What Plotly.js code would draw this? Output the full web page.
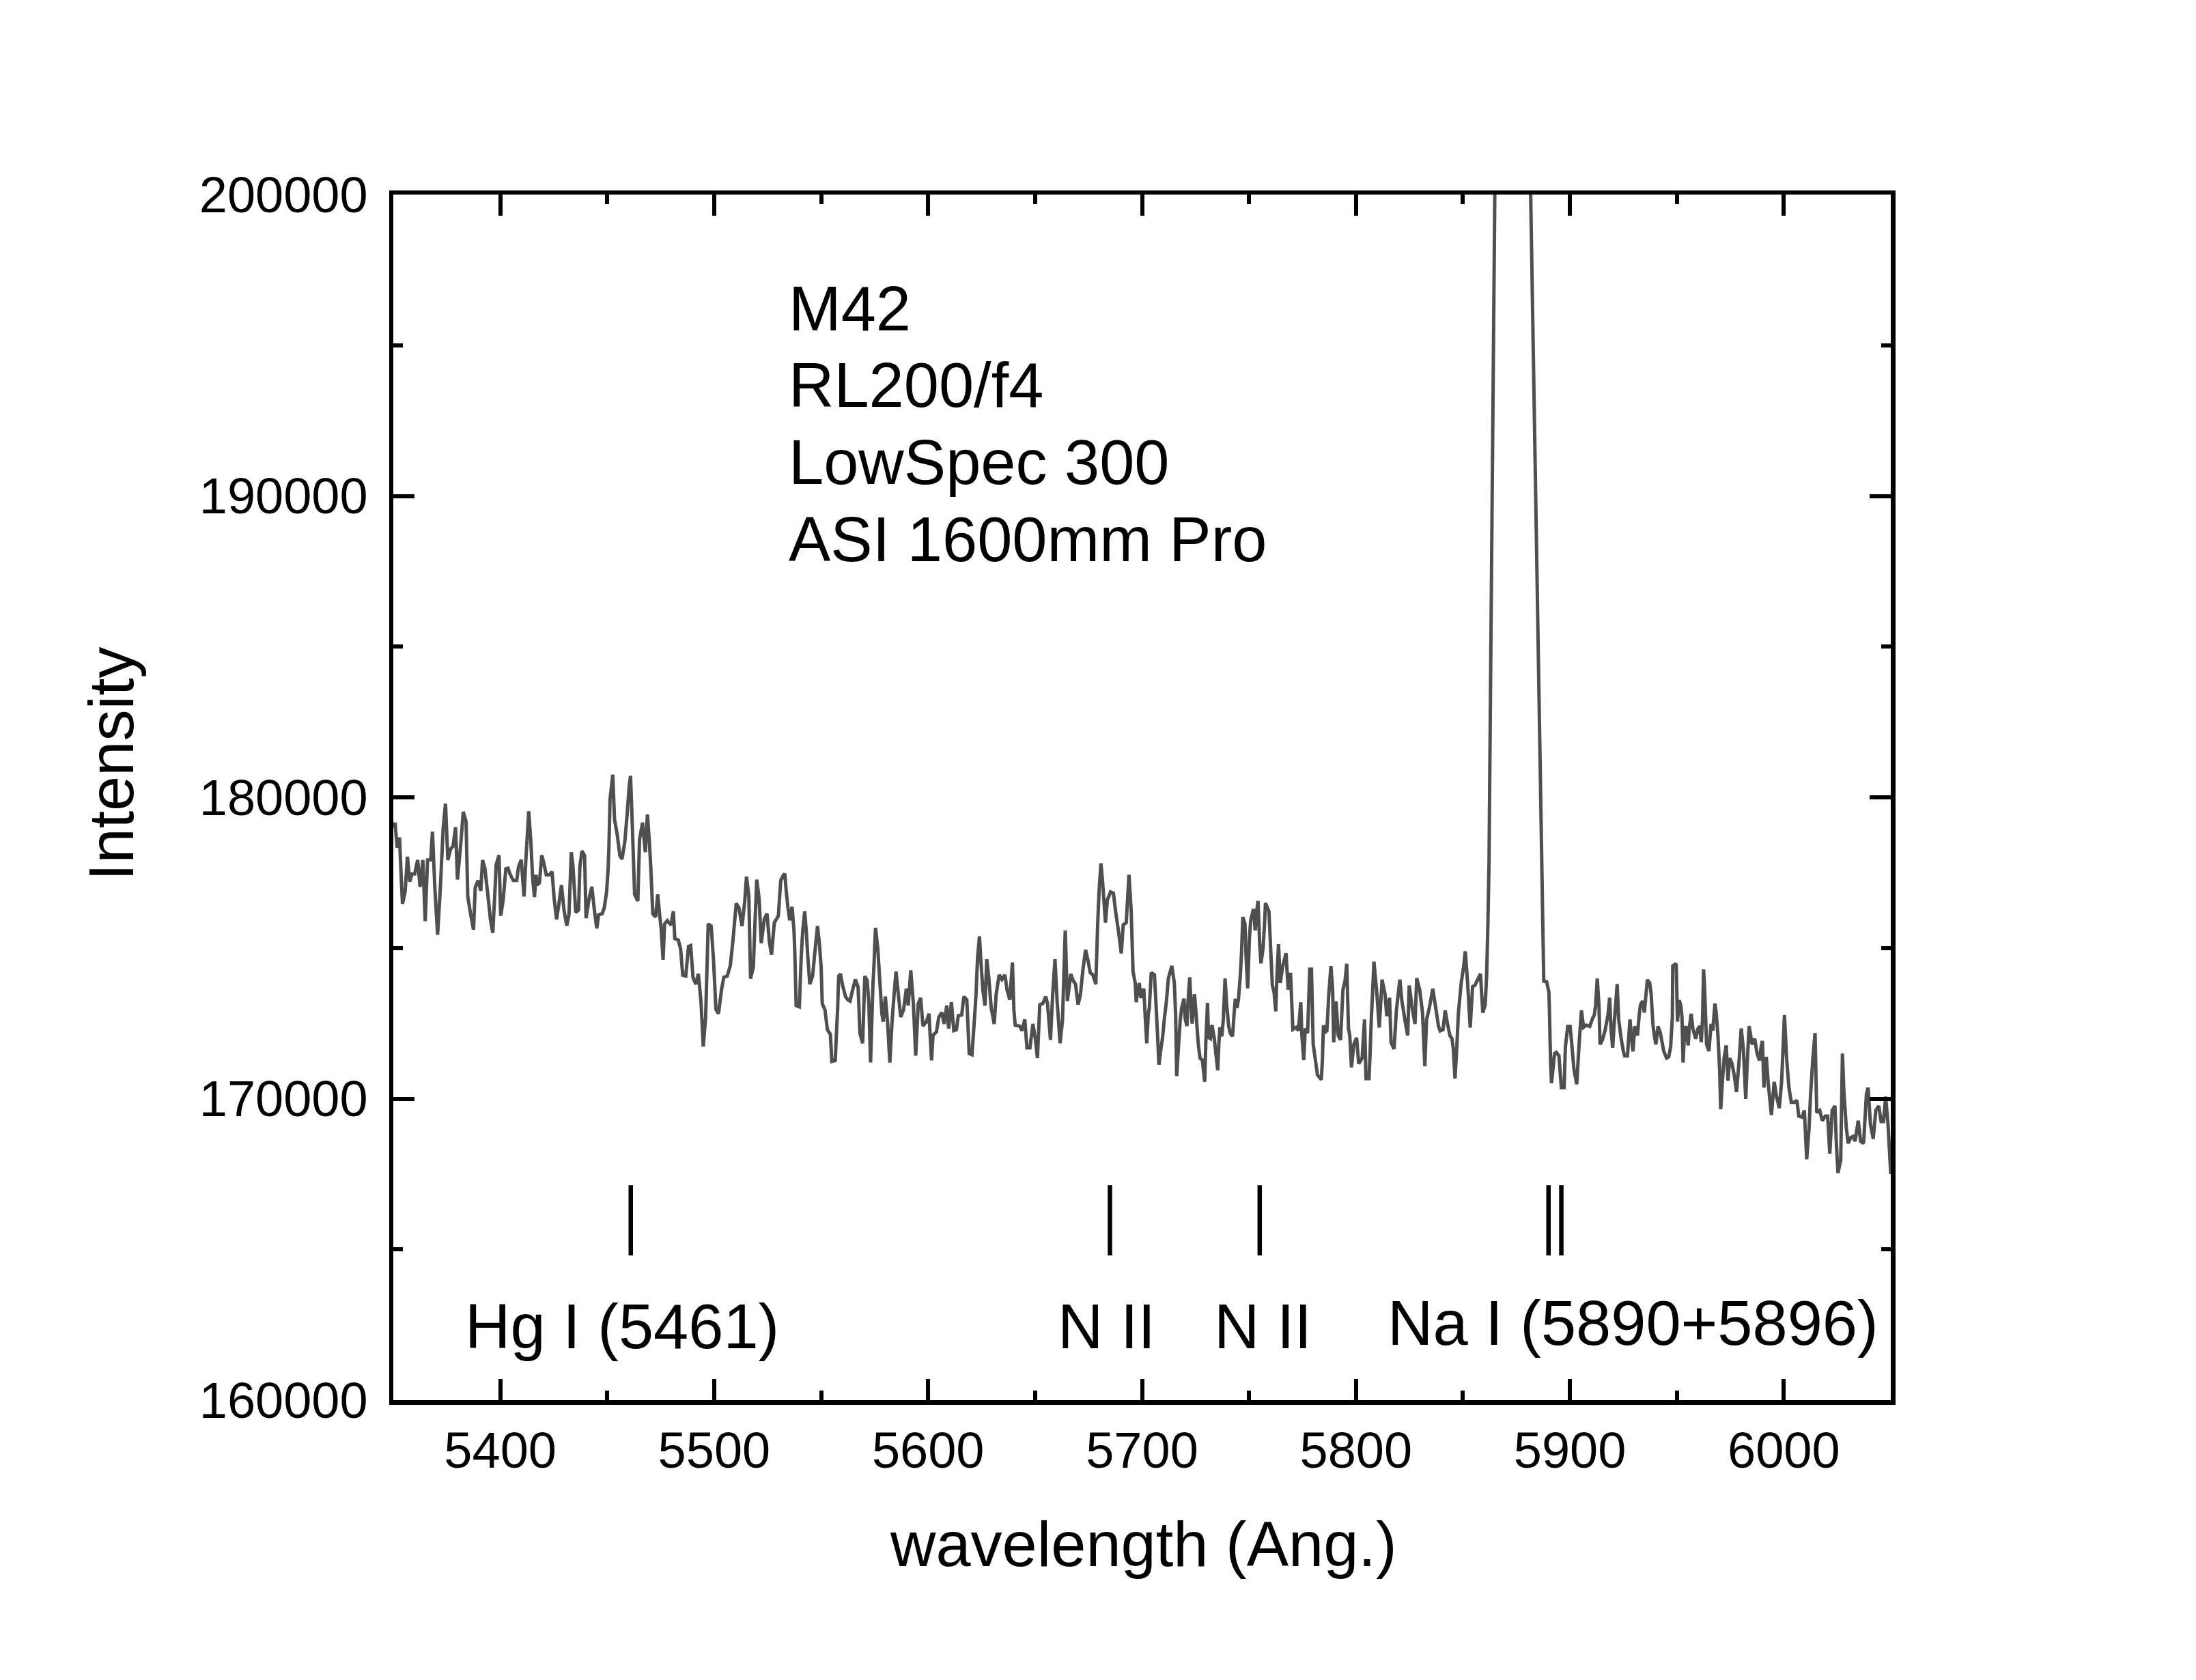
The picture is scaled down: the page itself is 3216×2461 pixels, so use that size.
<!DOCTYPE html>
<html>
<head>
<meta charset="utf-8">
<script src="https://cdn.plot.ly/plotly-3.0.1.min.js"></script>
<style>html,body{margin:0;padding:0;background:#fff;}</style>
</head>
<body>
<div id="chart"></div>
<script>
// ---- data ----
const wavelength = [
5350.2,5350.8,5351.8,5352.9,5353.9,5354.3,5355.5,5356.6,5357.7,5358.7,5360.0,5361.4,5362.5,5363.8,5364.9,5366.0,5367.5,5368.3,5369.4,5370.7,
5372.0,5373.3,5374.4,5375.5,5376.8,5377.9,5379.1,5380.0,5381.6,5382.7,5384.0,5384.8,5386.2,5387.5,5388.3,5389.6,5390.9,5391.7,5392.8,5394.4,
5395.4,5396.5,5397.6,5398.1,5399.4,5400.2,5401.3,5402.6,5403.6,5404.5,5406.1,5407.7,5408.5,5409.8,5411.1,5411.9,5413.3,5414.3,5415.1,5416.0,
5416.7,5417.2,5418.3,5419.4,5420.4,5421.5,5423.1,5424.2,5425.2,5426.3,5427.3,5428.6,5429.8,5431.1,5432.1,5433.2,5434.0,5435.3,5436.6,5437.2,
5438.2,5439.4,5440.1,5441.5,5442.8,5444.0,5445.1,5446.0,5447.6,5448.6,5449.7,5450.4,5450.8,5451.3,5452.6,5453.4,5454.7,5455.9,5456.9,5458.2,
5459.3,5460.3,5460.9,5461.7,5462.8,5464.3,5465.1,5466.5,5467.8,5468.8,5469.7,5470.4,5471.3,5472.6,5473.6,5474.5,5475.2,5476.1,5476.8,5478.1,
5479.8,5480.9,5481.6,5483.2,5484.3,5485.3,5486.7,5488.0,5489.0,5490.1,5491.4,5492.6,5493.8,5494.9,5496.0,5497.2,5498.6,5499.7,5500.8,5502.0,
5503.4,5504.5,5506.1,5507.5,5508.7,5510.3,5511.6,5513.0,5514.3,5515.1,5516.2,5517.0,5518.3,5519.0,5519.9,5521.0,5522.0,5523.4,
5524.7,5525.8,5526.8,5528.1,5530.0,5531.1,5532.1,5533.0,5533.7,5534.5,5535.3,5536.4,5537.3,5537.7,5538.3,5539.8,5540.7,5541.4,5542.3,5543.1,
5543.8,5544.7,5546.0,5547.0,5548.3,5549.2,5550.0,5550.5,5551.8,5552.9,5554.3,5555.0,5556.6,5557.1,5557.7,5558.2,5559.0,5560.0,5561.4,5562.5,
5563.5,5564.6,5566.0,5567.3,5568.1,5569.4,5570.4,5571.5,5572.3,5573.1,5574.2,5574.7,5575.4,5576.5,5577.4,5578.4,5579.0,5580.0,5581.1,5582.1,
5583.2,5584.1,5585.0,5586.4,5587.2,5588.5,5589.8,5590.7,5591.9,5593.1,5594.2,5595.4,5596.5,5597.6,5599.2,5600.4,5601.6,5602.3,5603.9,5605.0,
5606.4,5607.5,5608.7,5609.6,
5610.9,5612.0,5613.2,5614.1,5615.7,5616.7,5618.1,5619.2,5620.5,5621.5,5622.4,5623.1,5624.0,5624.7,5625.6,5626.6,5627.4,5628.4,5629.5,5630.9,
5631.8,5633.2,5634.5,5635.9,5636.9,5638.2,5639.4,5640.1,5640.7,5642.8,5643.9,5645.2,5646.2,5647.6,5649.0,5650.2,5651.1,5652.2,5653.6,5655.0,
5655.8,5657.2,5658.2,5659.3,5660.3,5661.7,5662.8,5664.1,5665.1,5666.7,5667.8,5668.9,5670.1,5671.2,5672.4,5673.6,5674.7,5675.8,5677.0,5678.4,
5679.2,5680.0,5680.8,5681.6,5682.9,5683.8,5685.3,5686.6,5687.7,5689.1,5690.3,5691.2,5692.6,5693.9,5694.9,5695.8,
5696.8,5697.3,5697.9,5698.7,5699.4,5700.0,5700.8,5701.5,5702.2,5702.9,5703.4,5704.3,5705.8,5706.4,5707.2,5707.9,5708.8,5709.6,5710.4,5711.4,
5712.3,5713.9,5715.1,5715.7,5716.2,5717.1,5717.8,5718.5,5719.6,5720.2,5721.0,5721.5,5722.3,5722.8,5723.4,5724.5,5725.2,5726.3,5727.1,5728.2,
5729.3,5729.8,5730.6,5731.1,5732.0,5732.7,5733.8,5734.6,5735.4,5735.9,5736.4,5737.3,5738.0,5738.8,5739.6,5740.5,5741.2,5742.3,5743.0,5743.6,
5744.4,5745.1,5746.0,5746.5,5747.1,5748.1,5748.6,5749.4,5750.2,5750.8,5752.1,5752.9,5753.4,5754.2,5755.0,5755.6,5756.6,5757.2,5757.7,5759.3,
5760.0,5760.9,5761.7,5762.5,5763.0,5763.8,5764.6,5765.7,5767.3,5768.3,5769.4,5770.5,5772.1,5773.1,5774.2,5774.7,5775.6,5776.3,5777.4,5778.4,
5779.2,5780.0,5782.0,
5783.8,5784.3,5784.8,5785.6,5786.4,5787.3,5788.3,5789.1,5789.6,5790.7,5791.7,5792.8,5793.9,5794.9,5795.7,5796.5,5797.1,5797.9,5799.0,5800.3,
5801.3,5802.9,5804.0,5804.7,5806.1,5806.6,5807.2,5807.7,5808.4,5809.8,5810.9,5812.2,5813.6,5814.4,5815.7,5816.4,5817.8,5818.9,5820.5,5821.5,
5823.1,5824.2,5824.9,5826.3,5827.6,5828.4,5829.8,5831.1,5832.2,5833.0,5834.3,5835.9,5837.3,5838.6,5839.4,5840.7,5841.7,5842.8,5843.9,5844.9,
5845.5,5846.3,5847.1,5847.9,5849.2,5850.3,5851.1,5852.2,5853.4,5854.5,5855.6,5856.6,5858.2,5859.3,5860.4,5861.1,5861.7,5862.2,
5865.5,5867.0,5869.0,5871.0,5873.0,5875.0,5877.0,5879.0,5880.5,
5887.5,5887.8,5889.1,5890.2,5890.5,5890.7,5891.0,5891.4,
5892.3,5892.8,5893.7,5894.9,5896.0,5897.3,5897.9,5899.0,5900.1,5900.8,5901.9,5903.2,5904.3,5905.4,5906.4,5907.7,5909.3,5910.4,5911.4,5912.0,
5912.8,5913.6,5914.1,5915.2,5916.4,5917.8,5918.6,5919.2,5920.0,5920.7,5922.1,5922.8,5923.9,5925.0,5925.6,5926.9,5928.1,5928.8,5929.5,5930.3,
5931.6,5932.4,5933.0,5934.1,5934.8,5936.2,5937.3,5938.0,5938.8,5939.6,5940.2,5941.2,5942.3,5943.9,5945.2,5946.2,5947.1,5947.9,5948.1,5949.7,
5950.3,5951.1,5951.9,5952.4,5952.9,5953.7,5954.3,
5955.3,5955.8,5956.7,5957.5,5958.8,5959.9,5960.7,5961.4,5962.0,5962.5,5963.0,5963.9,5965.0,5966.0,5966.8,5967.8,5968.4,5969.2,5970.0,5970.5,
5971.3,5972.1,5973.1,5973.9,5974.7,5975.8,5976.9,5977.9,5979.2,5980.1,5981.1,5982.2,5982.9,5983.8,5985.2,5986.4,5987.5,5988.6,5989.4,5990.0,
5990.7,5991.8,5992.8,5994.2,5995.5,5996.6,5997.9,5999.0,6000.3,6001.3,6002.4,6003.5,6005.1,6006.1,6007.0,6008.6,6009.6,6010.7,6011.8,6012.5,
6013.6,6014.6,6015.4,6016.8,6018.0,6019.4,6020.5,6021.5,6022.6,6023.9,6024.5,6025.3,6026.6,6027.4,6028.1,6029.2,6030.1,6031.3,6032.4,6033.3,
6034.8,6035.9,6037.3,6038.6,6039.4,6040.5,6041.8,6043.0,6044.4,6045.5,6046.6,6047.6,6048.7,6050.0
];
const intensity = [
179000,179160,178330,178670,177010,176470,176860,178030,177200,177460,177460,177920,177030,177920,175890,177920,177930,178860,177010,175440,
177010,178970,179790,177920,178290,178370,179010,177270,178520,179520,179200,176710,176100,175610,177010,177240,176900,177920,177650,176630,
175950,175500,177010,177770,178080,176070,176560,177630,177650,177460,177240,177240,177690,177930,176710,177840,179540,178520,177350,176690,
177430,177090,177160,178080,177800,177430,177430,177540,176630,175950,176410,177090,176260,175740,176100,178180,177690,176180,176260,177690,
178220,178070,175990,176630,177030,176260,175650,176100,176140,176330,176860,177610,178370,179920,180750,179270,178750,178070,177950,178520,
179430,180410,180710,179120,176780,176560,178600,179160,178180,179430,178520,177610,176140,176030,176780,176100,175650,174610,175800,175910,
175760,176220,175310,175270,174970,174100,174070,175050,175080,174030,173800,174140,173240,171730,172710,175800,175730,174590,172970,172820,
173610,174030,174070,174410,175200,176480,176330,175730,176560,177370,176710,173990,174370,175730,177270,176630,175160,175950,
176140,175200,174780,175840,176070,177240,177390,177470,176860,176330,175920,176370,175580,174820,173090,173050,174750,175580,176220,175500,
174670,173800,174070,174820,175730,175120,174370,173160,172940,172290,172140,171240,171270,172110,172970,174070,174140,173770,173390,173280,
173240,173580,173960,173690,172180,171840,174070,173920,173160,171200,173770,174450,175670,174970,173920,172820,172560,173390,172480,171200,
172630,173460,174220,173240,172710,172940,173650,173090,174260,173160,171430,173160,173350,172410,172560,172820,171270,172110,172220,172710,
172860,172480,173090,172330,
173200,172260,172290,172750,172780,173390,173280,171500,171460,172480,173460,174670,175390,174520,173610,173090,174630,173990,173010,172480,
173460,174110,173960,174110,173610,173280,174520,172940,172440,172410,172260,172630,171690,171690,172480,171950,171350,173120,173160,173390,
173160,171950,173430,174630,173240,171840,172600,175580,173240,174140,173920,173800,173120,173460,174300,174940,174600,174180,174110,173800,
175690,177010,177810,177160,175840,176600,176860,176820,176180,175500,174820,175770,175840,177430,176260,174220,
173840,173200,173540,173840,173390,173390,173660,172710,171840,172790,173010,174180,174110,173320,172180,171130,171650,172030,172640,173240,
173990,174410,173840,172790,170750,171810,172560,173010,173320,172640,172410,173240,174030,173240,172490,173470,172860,171810,171350,171280,
170560,171840,173180,172030,171990,172450,171990,171430,170940,171810,172370,172070,172640,173990,173090,172410,172180,172070,172790,173320,
173010,173320,174150,174830,176030,175810,174750,173660,175350,175920,176300,175580,176110,176560,175130,174490,175010,175730,176490,176220,
175170,173770,173540,172900,173990,175130,173840,174370,174830,173620,174180,172300,172370,172260,173200,172110,171280,172330,172180,174300,
174300,171810,170790,
170630,171270,172440,172210,172250,173460,174400,173610,171870,173230,172100,171950,173610,173910,174480,172330,172100,171040,171800,172020,
171160,171350,172630,170670,170670,171500,172700,173420,174550,173460,172360,173950,173460,172740,173350,171870,171650,172930,173950,173230,
172520,172100,173760,173010,172480,174000,173610,172860,171080,172630,173010,173650,173010,172400,172250,172290,172930,172480,172100,171990,
171650,170670,171650,172860,173840,174370,174890,173840,172360,173720,173760,173910,174140,172860,173120,174100,175880,177840,
205000,240000,275000,295000,300000,290000,265000,230000,205000,
175100,173900,173880,173540,172780,172030,171200,170520,
171120,171500,171540,171420,170370,170370,171720,172400,172400,171880,170970,170480,171800,172930,172370,172440,172400,172630,172780,173080,
173990,173080,171800,171950,172250,172780,173350,172330,171690,172480,173800,172630,172030,171570,171420,171420,172630,172030,171570,172400,
172100,172780,173120,173240,172860,173950,173840,173460,172480,172030,171800,172400,172180,171570,171350,171390,171720,172710,174410,174480,
172560,173270,173080,172710,171200,172330,172400,
171770,172330,172820,172330,171990,172330,172410,171880,172630,174290,173620,171800,171580,172480,172260,173160,172860,172110,170970,169650,
170600,171350,171770,170600,171350,171160,170750,170220,171350,172330,171650,169990,171200,172410,171800,171990,171500,171270,171730,171920,
170370,171390,170440,169460,170560,170070,169690,170600,172780,171350,170370,169880,169880,169950,169420,169390,169610,167990,169010,170140,
171350,172180,169540,169610,169270,169420,169420,168180,169610,169760,168630,167540,167950,171500,170220,169050,168520,168710,168750,168590,
169270,168590,168520,170140,170370,169160,168670,169610,169760,169240,169240,170070,169160,167500
];

// atomic line markers
const lineMarkX = [5461, 5685, 5755, 5890, 5896];
const lineMarkTop = 167130;
const lineMarkBottom = 164800;

// line identification labels
const lineLabels = ['Hg I (5461)', 'N II', 'N II', 'Na I (5890+5896)'];
const lineLabelX = [5456.8, 5683.3, 5756.6, 5929.5];
const lineLabelY = [162450, 162450, 162450, 162560];

// info text block
const infoLines = ['M42', 'RL200/f4', 'LowSpec 300', 'ASI 1600mm Pro'];
const infoX = 5534.3;
const infoY = [196217, 193681, 191121, 188561];

const xTitle = 'wavelength (Ang.)';
const yTitle = 'Intensity';

const FONT = 'Liberation Sans, Arial, Helvetica, sans-serif';
const TXT = 92;

const trace = {
  x: wavelength, y: intensity, type: 'scatter', mode: 'lines',
  line: {color: '#4f4f4f', width: 5, simplify: false},
  hoverinfo: 'skip'
};

const shapes = lineMarkX.map(x => ({
  type: 'line', xref: 'x', yref: 'y', x0: x, x1: x, y0: lineMarkBottom, y1: lineMarkTop,
  line: {color: 'black', width: 6.5}
}));

const annotations = [];
lineLabels.forEach((t, i) => annotations.push({
  text: t, x: lineLabelX[i], y: lineLabelY[i], xref: 'x', yref: 'y',
  xanchor: 'center', yanchor: 'middle', showarrow: false,
  font: {family: FONT, size: TXT, color: 'black'}
}));
infoLines.forEach((t, i) => annotations.push({
  text: t, x: infoX, y: infoY[i], xref: 'x', yref: 'y',
  xanchor: 'left', yanchor: 'middle', showarrow: false,
  font: {family: FONT, size: TXT, color: 'black'}
}));
annotations.push({
  text: xTitle, xref: 'paper', yref: 'paper', x: 0.5007, y: -0.1195,
  xanchor: 'center', yanchor: 'middle', showarrow: false,
  font: {family: FONT, size: TXT, color: 'black'}
});
annotations.push({
  text: yTitle, xref: 'paper', yref: 'paper', x: -0.1885, y: 0.528, textangle: -90,
  xanchor: 'center', yanchor: 'middle', showarrow: false,
  font: {family: FONT, size: TXT, color: 'black'}
});

const axisCommon = {
  showline: true, linecolor: 'black', linewidth: 6.5, mirror: 'allticks',
  ticks: 'inside', ticklen: 31, tickwidth: 6, tickcolor: 'black',
  showgrid: false, zeroline: false,
  tickfont: {family: FONT, size: 74, color: 'black'}
};

const layout = {
  width: 3216, height: 2461,
  margin: {l: 576, r: 447, t: 285, b: 410, pad: 0},
  paper_bgcolor: 'white', plot_bgcolor: 'white',
  showlegend: false,
  font: {family: FONT, color: 'black'},
  xaxis: Object.assign({}, axisCommon, {
    range: [5350, 6050], dtick: 100, tick0: 5400, ticklabelstandoff: 4,
    minor: {dtick: 50, tick0: 5350, ticks: 'inside', ticklen: 14, tickwidth: 6, tickcolor: 'black', showgrid: false}
  }),
  yaxis: Object.assign({}, axisCommon, {
    range: [160000, 200000], dtick: 10000, tick0: 160000, tickformat: 'd', ticklabelstandoff: 16,
    minor: {dtick: 5000, tick0: 160000, ticks: 'inside', ticklen: 14, tickwidth: 6, tickcolor: 'black', showgrid: false}
  }),
  shapes: shapes,
  annotations: annotations
};

Plotly.newPlot('chart', [trace], layout, {staticPlot: true, displayModeBar: false});
</script>
</body>
</html>
